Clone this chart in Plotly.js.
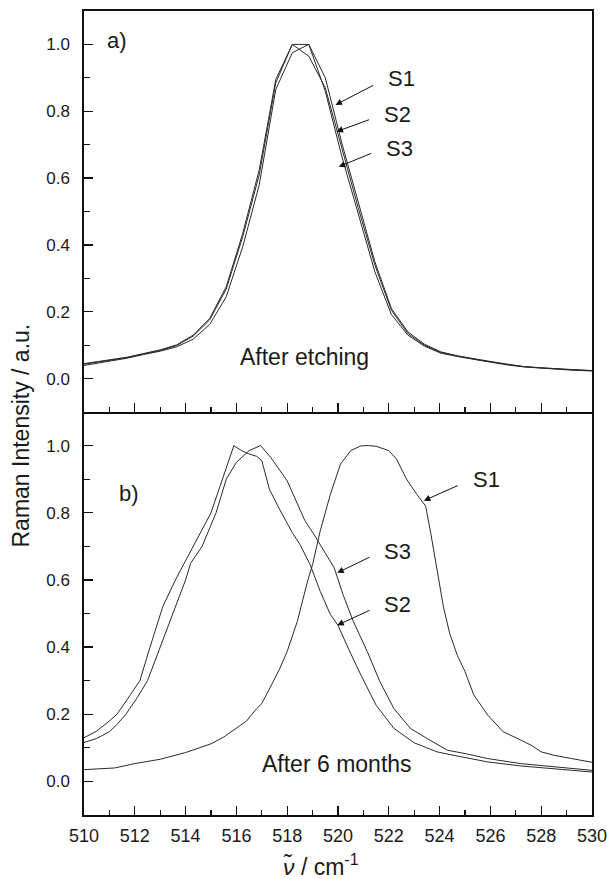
<!DOCTYPE html>
<html>
<head>
<meta charset="utf-8">
<script src="https://cdn.plot.ly/plotly-3.0.1.min.js"></script>
<style>html,body{margin:0;padding:0;background:#fff;}#chart{width:607px;height:879px;}</style>
</head>
<body>
<div id="chart"></div>
<script>
// ---- Panel a) "After etching" (shared wavenumber grid) ----
const xEtch = [509.75,510.4,511.05,511.7,512.35,513.0,513.65,514.3,514.95,515.6,516.25,516.9,517.55,518.2,518.85,519.5,520.15,520.8,521.45,522.1,522.75,523.4,524.05,524.7,525.35,526.0,526.65,527.3,527.95,528.6,529.25,529.9,530.55];
const etchS1 = [0.036,0.044,0.052,0.061,0.072,0.082,0.095,0.118,0.162,0.245,0.395,0.580,0.865,0.975,1.000,0.900,0.705,0.525,0.350,0.210,0.140,0.103,0.080,0.068,0.059,0.050,0.043,0.036,0.032,0.029,0.026,0.024,0.022];
const etchS2 = [0.040,0.048,0.055,0.063,0.074,0.084,0.099,0.127,0.176,0.268,0.425,0.610,0.885,1.000,0.965,0.870,0.690,0.510,0.340,0.205,0.135,0.100,0.078,0.067,0.058,0.050,0.042,0.036,0.032,0.029,0.026,0.024,0.022];
const etchS3 = [0.042,0.050,0.057,0.064,0.075,0.086,0.101,0.130,0.180,0.275,0.435,0.625,0.895,1.000,1.000,0.860,0.665,0.490,0.320,0.192,0.130,0.097,0.076,0.066,0.057,0.049,0.041,0.035,0.031,0.028,0.025,0.023,0.021];

// ---- Panel b) "After 6 months" ----
const x6S1 = [510.0,511.2,512.0,513.0,514.0,515.0,515.5,516.0,516.4,516.8,517.0,517.4,517.7,518.0,518.4,518.8,519.0,519.3,519.7,520.1,520.5,520.9,521.2,521.5,522.0,522.3,522.7,523.1,523.45,523.65,523.8,523.95,524.15,524.4,524.7,525.0,525.35,525.9,526.5,527.2,527.6,528.0,528.5,529.2,530.0];
const y6S1 = [0.035,0.040,0.053,0.066,0.086,0.112,0.132,0.158,0.180,0.217,0.232,0.290,0.335,0.387,0.477,0.596,0.646,0.746,0.855,0.945,0.985,0.999,1.000,0.998,0.985,0.960,0.900,0.855,0.820,0.740,0.670,0.600,0.520,0.440,0.375,0.327,0.257,0.197,0.148,0.123,0.108,0.088,0.078,0.068,0.057];
const x6S2 = [510.0,510.5,511.0,511.3,511.8,512.2,512.6,513.0,513.1,513.6,514.3,514.5,515.0,515.45,515.9,516.2,516.5,516.8,517.0,517.3,517.7,518.2,518.5,518.9,519.3,519.7,520.0,520.4,520.9,521.5,522.2,523.0,523.9,524.6,525.9,527.2,528.5,530.0];
const y6S2 = [0.130,0.150,0.180,0.200,0.255,0.300,0.400,0.500,0.520,0.600,0.700,0.730,0.800,0.900,1.000,0.985,0.975,0.968,0.955,0.870,0.810,0.741,0.706,0.646,0.566,0.497,0.465,0.397,0.317,0.227,0.158,0.115,0.088,0.077,0.058,0.046,0.038,0.028];
const x6S3 = [510.0,510.5,511.0,511.3,511.65,512.1,512.5,513.0,513.5,514.0,514.2,514.65,515.2,515.6,516.0,516.5,516.95,517.35,518.0,518.4,518.7,519.05,519.45,519.85,520.2,520.6,521.15,521.65,522.2,522.85,523.5,524.3,525.0,525.9,527.2,528.5,530.0];
const y6S3 = [0.116,0.128,0.148,0.170,0.200,0.250,0.300,0.400,0.500,0.600,0.650,0.700,0.800,0.900,0.950,0.985,1.000,0.965,0.895,0.826,0.776,0.736,0.686,0.636,0.556,0.477,0.387,0.297,0.217,0.158,0.128,0.093,0.083,0.068,0.053,0.043,0.033];

const seriesNames = ['S1','S2','S3'];
const lineStyle = {color:'#2a2a2a', width:1};

const traces = [
  {x:xEtch, y:etchS1, name:'S1 etched', xaxis:'x2', yaxis:'y2'},
  {x:xEtch, y:etchS2, name:'S2 etched', xaxis:'x2', yaxis:'y2'},
  {x:xEtch, y:etchS3, name:'S3 etched', xaxis:'x2', yaxis:'y2'},
  {x:x6S1, y:y6S1, name:'S1 6 months', xaxis:'x', yaxis:'y'},
  {x:x6S2, y:y6S2, name:'S2 6 months', xaxis:'x', yaxis:'y'},
  {x:x6S3, y:y6S3, name:'S3 6 months', xaxis:'x', yaxis:'y'}
].map(t => Object.assign({type:'scatter', mode:'lines', line:lineStyle, hoverinfo:'skip'}, t));

const FONT = 'Liberation Sans, Arial, sans-serif';
const txtColor = '#1a1a1a';

function xAxis(anchor, labels, mirror){
  return {
    range:[510,530], tick0:510, dtick:2, anchor:anchor,
    ticks:'inside', ticklen:9, tickwidth:1.3, tickcolor:'#111',
    minor:{dtick:1, ticks:'inside', ticklen:5, tickwidth:1.3, tickcolor:'#111'},
    showline:true, linewidth:1.6, linecolor:'#111', mirror:mirror,
    showgrid:false, zeroline:false, showticklabels:labels,
    ticklabeloverflow:'allow',
    tickfont:{family:FONT, size:18, color:txtColor}, ticklabelstandoff:4
  };
}
function yAxis(domain, anchor){
  return {
    domain:domain, range:[-0.1,1.1], tick0:0, dtick:0.2, tickformat:'.1f', anchor:anchor,
    ticks:'inside', ticklen:9, tickwidth:1.3, tickcolor:'#111',
    minor:{dtick:0.1, ticks:'inside', ticklen:6, tickwidth:1.3, tickcolor:'#111'},
    showline:true, linewidth:1.6, linecolor:'#111', mirror:true,
    showgrid:false, zeroline:false,
    tickfont:{family:FONT, size:17, color:txtColor}, ticklabelstandoff:9
  };
}

function label(text, x, y, xr, yr, size){
  return {text:text, x:x, y:y, xref:xr, yref:yr, showarrow:false,
          font:{family:FONT, size:size||22, color:txtColor}, xanchor:'center', yanchor:'middle'};
}
// label text sits at (lx, ly) (left edge, mid height); arrow points to the curve at (tx, ty)
function tag(text, tx, ty, lx, ly, xr, yr){
  return {text:text, x:tx, y:ty, ax:lx, ay:ly, xref:xr, yref:yr, axref:xr, ayref:yr,
          xanchor:'left', yanchor:'middle', showarrow:true, arrowhead:2, arrowsize:1.3,
          arrowwidth:1, arrowcolor:'#111', startstandoff:14,
          font:{family:FONT, size:22, color:txtColor}};
}

const annotations = [
  // panel a
  label('a)', 511.28, 1.013, 'x2', 'y2', 22),
  label('After etching', 518.68, 0.064, 'x2', 'y2', 23),
  tag(seriesNames[0], 519.90, 0.819, 521.88, 0.897, 'x2', 'y2'),
  tag(seriesNames[1], 519.94, 0.739, 521.74, 0.789, 'x2', 'y2'),
  tag(seriesNames[2], 520.03, 0.634, 521.82, 0.690, 'x2', 'y2'),
  // panel b
  label('b)', 511.79, 0.856, 'x', 'y', 22),
  label('After 6 months', 519.97, 0.052, 'x', 'y', 23),
  tag(seriesNames[0], 523.38, 0.836, 525.22, 0.898, 'x', 'y'),
  tag(seriesNames[2], 519.97, 0.621, 521.74, 0.686, 'x', 'y'),
  tag(seriesNames[1], 519.97, 0.465, 521.74, 0.527, 'x', 'y'),
  // axis titles
  {text:'Raman Intensity / a.u.', xref:'paper', yref:'paper', x:-0.125, y:0.4714, textangle:-90,
   showarrow:false, font:{family:FONT, size:23, color:txtColor}, xanchor:'center', yanchor:'middle'},
  {text:'<i>ν̃</i> / cm<sup>-1</sup>', xref:'paper', yref:'paper', x:0.467, y:-0.062,
   showarrow:false, font:{family:FONT, size:23, color:txtColor}, xanchor:'center', yanchor:'middle'}
];

const split = 403/804;
const layout = {
  width:607, height:879,
  margin:{l:83.5, r:15, t:11, b:64, pad:0},
  paper_bgcolor:'#fff', plot_bgcolor:'#fff',
  showlegend:false,
  font:{family:FONT, color:txtColor},
  xaxis: xAxis('y', true, false),
  xaxis2: Object.assign(xAxis('y2', false, true), {matches:'x'}),
  yaxis: yAxis([0, split], 'x'),
  yaxis2: yAxis([split, 1], 'x2'),
  annotations: annotations
};

Plotly.newPlot('chart', traces, layout, {staticPlot:true, displayModeBar:false});
</script>
</body>
</html>
